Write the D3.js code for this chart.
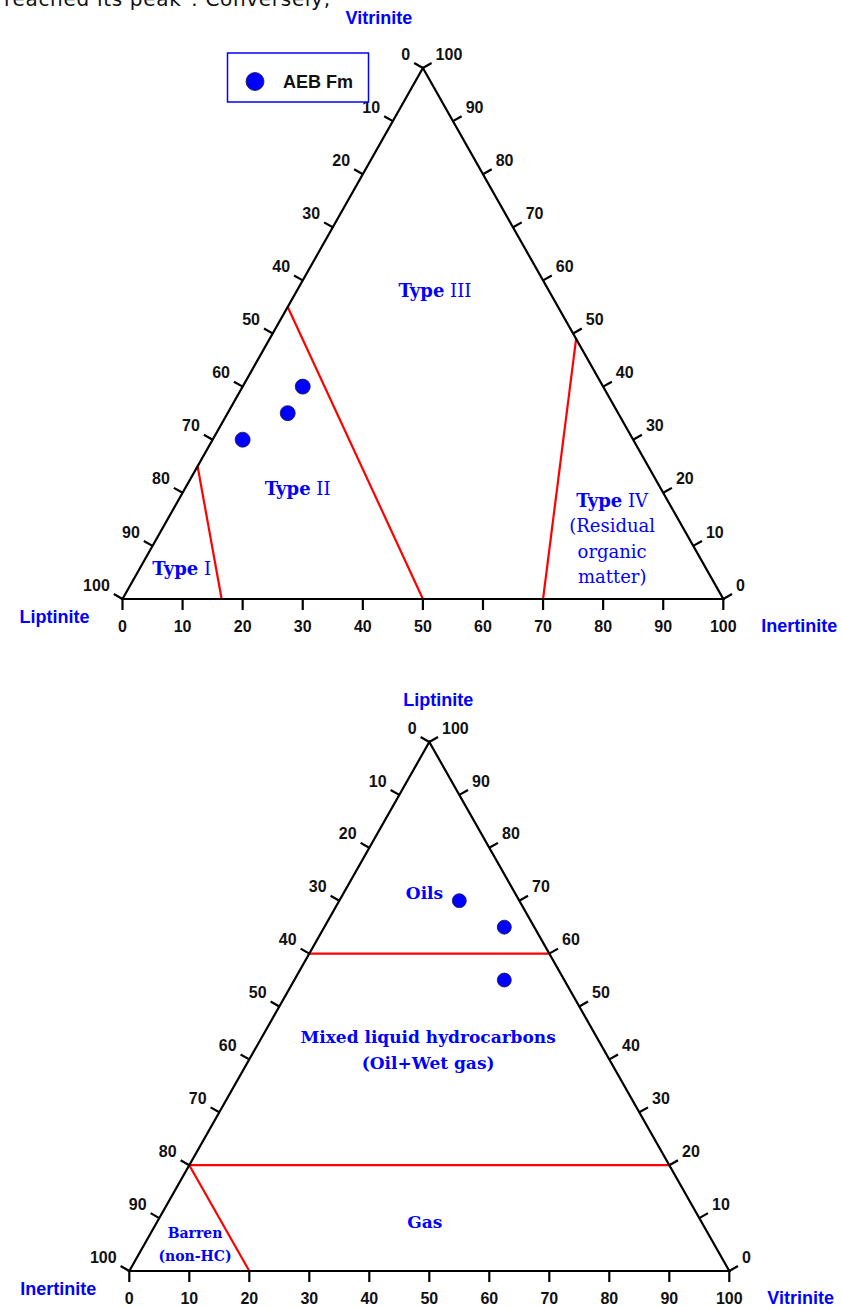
<!DOCTYPE html>
<html>
<head>
<meta charset="utf-8">
<script src="https://cdn.jsdelivr.net/npm/d3@7"></script>
<style>
  body { margin: 0; background: #fff; }
  svg { display: block; }
</style>
</head>
<body>
<div id="myChart"></div>
<script>
// Set width and height of the SVG
const w = 842;
const h = 1308;

// Tick values shared by every side of both triangles
const tickValues = [0, 10, 20, 30, 40, 50, 60, 70, 80, 90, 100];

// ---- Upper diagram (kerogen type)
// every composition is [bottom-left %, top %, bottom-right %] = [Liptinite, Vitrinite, Inertinite]
const kerogenVertices = ["Liptinite", "Vitrinite", "Inertinite"];
const kerogenSamples = [[65, 30, 5], [55, 35, 10], [50, 40, 10]];
const kerogenBounds = [
  [[75, 25, 0], [83.5, 0, 16.5]],
  [[45, 55, 0], [50, 0, 50]],
  [[0, 49, 51], [30, 0, 70]]
];
const kerogenLabels = ["Type III", "Type II", "Type I", "Type IV\n(Residual\norganic\nmatter)"];
const kerogenLabelAt = [[19, 58, 23], [60.5, 20.7, 18.8], [87.3, 5.7, 7], [9.2, 18.6, 72.2]];
const legendName = "AEB Fm";

// ---- Lower diagram (hydrocarbon potential)
// every composition is [bottom-left %, top %, bottom-right %] = [Inertinite, Liptinite, Vitrinite]
const hcVertices = ["Inertinite", "Liptinite", "Vitrinite"];
const hcSamples = [[10, 70, 20], [5, 65, 30], [10, 55, 35]];
const hcBounds = [
  [[40, 60, 0], [0, 60, 40]],
  [[80, 20, 0], [0, 20, 80]],
  [[80, 20, 0], [80, 0, 20]]
];
const hcLabels = ["Oils", "Mixed liquid hydrocarbons\n(Oil+Wet gas)", "Gas", "Barren\n(non-HC)"];
const hcLabelAt = [[15.1, 71.4, 13.5], [28.1, 44.2, 27.7], [46.1, 9.3, 44.6], [85.5, 7.1, 7.4]];

const blue = "#0000ff";
const red = "#ff0000";
const sans = "'Liberation Sans', Arial, sans-serif";
const serif = "'DejaVu Serif', serif";

const svg = d3.select("#myChart")
  .append("svg")
    .attr("width", w)
    .attr("height", h)
    .attr("viewBox", [0, 0, w, h]);

// clipped line of the surrounding document text (cut by the top edge, as in the source)
svg.append("text")
  .attr("x", 4)
  .attr("y", 6)
  .attr("font-family", "'DejaVu Sans', sans-serif")
  .attr("font-size", 20)
  .attr("textLength", 326)
  .attr("lengthAdjust", "spacing")
  .attr("fill", "#111")
  .text("reached its peak\". Conversely,");

function drawPanel(p) {
  const xScale = d3.scaleLinear().domain([0, 100]).range([p.left, p.right]);
  const yScale = d3.scaleLinear().domain([0, 100]).range([p.base, p.apex]);
  const proj = d => [xScale(d[2] + d[1] / 2), yScale(d[1])];

  const g = svg.append("g");
  const bl = proj([100, 0, 0]), tp = proj([0, 100, 0]), br = proj([0, 0, 100]);

  // red class boundaries
  g.selectAll(".bound")
    .data(p.bounds)
    .join("line")
      .attr("class", "bound")
      .attr("x1", d => proj(d[0])[0])
      .attr("y1", d => proj(d[0])[1])
      .attr("x2", d => proj(d[1])[0])
      .attr("y2", d => proj(d[1])[1])
      .attr("stroke", red)
      .attr("stroke-width", 2.2);

  // triangle frame
  g.append("path")
    .attr("d", d3.line()([bl, tp, br]) + "Z")
    .attr("fill", "none")
    .attr("stroke", "#000")
    .attr("stroke-width", 2.2)
    .attr("stroke-linejoin", "miter");

  // outward normals of the two slanted sides
  const norm = (a, b) => {
    const dx = a[0] - b[0], dy = a[1] - b[1], l = Math.hypot(dx, dy);
    return [-dy / l, dx / l];
  };
  const nLeft = norm(bl, tp);
  const nRight = norm(tp, br);

  const ticks = [];
  tickValues.forEach(v => {
    ticks.push({side: "bottom", v, pos: proj([100 - v, 0, v]), dir: [0, 1], len: 11});
    ticks.push({side: "left", v, pos: proj([v, 100 - v, 0]), dir: nLeft, len: 10});
    ticks.push({side: "right", v, pos: proj([0, v, 100 - v]), dir: nRight, len: 10});
  });

  g.selectAll(".tick")
    .data(ticks)
    .join("line")
      .attr("class", "tick")
      .attr("x1", d => d.pos[0])
      .attr("y1", d => d.pos[1])
      .attr("x2", d => d.pos[0] + d.dir[0] * d.len)
      .attr("y2", d => d.pos[1] + d.dir[1] * d.len)
      .attr("stroke", "#000")
      .attr("stroke-width", 2.2);

  g.selectAll(".tickLabel")
    .data(ticks)
    .join("text")
      .attr("class", "tickLabel")
      .attr("x", d => {
        const ex = d.pos[0] + d.dir[0] * d.len;
        return d.side === "bottom" ? d.pos[0] : d.side === "left" ? ex - 4 : ex + 4;
      })
      .attr("y", d => d.side === "bottom" ? d.pos[1] + 27 : d.pos[1] + d.dir[1] * d.len - 9)
      .attr("dy", "0.35em")
      .attr("text-anchor", d => d.side === "bottom" ? "middle" : d.side === "left" ? "end" : "start")
      .attr("font-family", sans)
      .attr("font-weight", "bold")
      .attr("font-size", 16)
      .attr("fill", "#111")
      .text(d => d.v);

  // vertex titles
  const titles = [
    {text: p.vertices[0], x: bl[0] - 33, y: bl[1] + 18, anchor: "end"},
    {text: p.vertices[1], x: tp[0] + p.topDx, y: tp[1] + p.topDy, anchor: "middle"},
    {text: p.vertices[2], x: br[0] + 38, y: br[1] + 27, anchor: "start"}
  ];
  g.selectAll(".title")
    .data(titles)
    .join("text")
      .attr("class", "title")
      .attr("x", d => d.x)
      .attr("y", d => d.y)
      .attr("dy", "0.35em")
      .attr("text-anchor", d => d.anchor)
      .attr("font-family", sans)
      .attr("font-weight", "bold")
      .attr("font-size", 18)
      .attr("fill", blue)
      .text(d => d.text);

  // region labels
  p.labels.forEach((txt, i) => {
    const at = proj(p.labelAt[i]);
    const size = p.labelSize(txt);
    const t = g.append("text")
      .attr("x", at[0])
      .attr("y", at[1])
      .attr("text-anchor", "middle")
      .attr("font-family", serif)
      .attr("font-size", size)
      .attr("fill", blue);
    txt.split("\n").forEach((line, j) => {
      const ts = t.append("tspan")
        .attr("x", at[0])
        .attr("dy", j === 0 ? "0.35em" : p.lineGap(size) + "px");
      if (p.typeStyle && line.startsWith("Type ")) {
        ts.append("tspan").attr("font-weight", "bold").text("Type");
        ts.append("tspan").text(line.slice(4));
      } else {
        ts.attr("font-weight", p.typeStyle ? "normal" : "bold").text(line);
      }
    });
  });

  // samples
  g.selectAll(".sample")
    .data(p.samples)
    .join("circle")
      .attr("class", "sample")
      .attr("cx", d => proj(d)[0])
      .attr("cy", d => proj(d)[1])
      .attr("r", p.r)
      .attr("fill", blue)
      .attr("stroke", "#1a1a40")
      .attr("stroke-width", 0.8);
}

drawPanel({
  left: 122.5, right: 723.3, base: 599, apex: 68,
  vertices: kerogenVertices, samples: kerogenSamples, bounds: kerogenBounds,
  labels: kerogenLabels, labelAt: kerogenLabelAt,
  labelSize: () => 18, lineGap: () => 25.5, typeStyle: true,
  topDx: -44, topDy: -50, r: 7.5
});

drawPanel({
  left: 129.3, right: 729.3, base: 1271, apex: 742,
  vertices: hcVertices, samples: hcSamples, bounds: hcBounds,
  labels: hcLabels, labelAt: hcLabelAt,
  labelSize: t => t.startsWith("Barren") ? 14 : 17,
  lineGap: s => s < 15 ? 23 : 26, typeStyle: false,
  topDx: 9, topDy: -42, r: 7
});

// Legend
const legend = svg.append("g");
legend.append("rect")
  .attr("x", 227.5).attr("y", 53)
  .attr("width", 141).attr("height", 49)
  .attr("fill", "#fff")
  .attr("stroke", blue)
  .attr("stroke-width", 1.5);
legend.append("circle")
  .attr("cx", 255).attr("cy", 81.5).attr("r", 9)
  .attr("fill", blue)
  .attr("stroke", "#1a1a40")
  .attr("stroke-width", 0.8);
legend.append("text")
  .attr("x", 283).attr("y", 81.5)
  .attr("dy", "0.35em")
  .attr("font-family", sans)
  .attr("font-weight", "bold")
  .attr("font-size", 18)
  .attr("fill", "#111")
  .text(legendName);
</script>
</body>
</html>
